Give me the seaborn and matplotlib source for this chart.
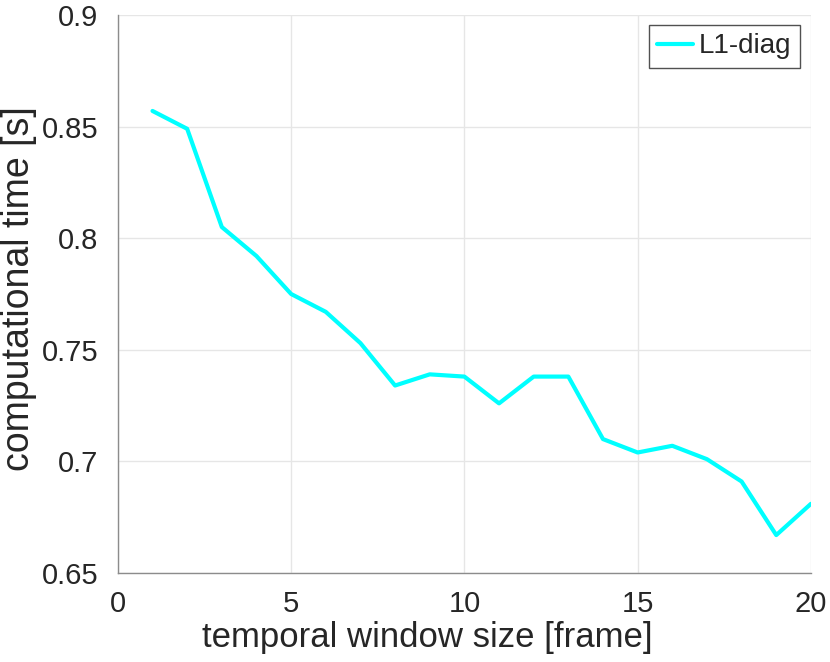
import numpy as np
import pandas as pd
import matplotlib
matplotlib.use("Agg")
import matplotlib.pyplot as plt
import seaborn as sns

# ---------------- Data ----------------
window_size = [1, 2, 3, 4, 5, 6, 7, 8, 9, 10,
               11, 12, 13, 14, 15, 16, 17, 18, 19, 20]
comp_time = [0.857, 0.849, 0.805, 0.792, 0.775, 0.767, 0.753, 0.734, 0.739, 0.738,
             0.726, 0.738, 0.738, 0.710, 0.704, 0.707, 0.701, 0.691, 0.667, 0.681]
series_name = "L1-diag"
x_ticks = [0, 5, 10, 15, 20]
y_ticks = [0.65, 0.7, 0.75, 0.8, 0.85, 0.9]
y_tick_labels = ["0.65", "0.7", "0.75", "0.8", "0.85", "0.9"]

df = pd.DataFrame({"window": window_size, "time": comp_time, "method": series_name})

# ---------------- Style ----------------
sns.set_theme(style="white")
plt.rcParams["font.family"] = ["Liberation Sans", "DejaVu Sans"]
plt.rcParams["xtick.direction"] = "in"
plt.rcParams["ytick.direction"] = "in"

fig = plt.figure(figsize=(8.3, 6.62), dpi=100)
ax = fig.add_axes([0.142, 0.1344, 0.835, 0.843])

sns.lineplot(
    data=df,
    x="window",
    y="time",
    hue="method",
    palette=["#00ffff"],
    linewidth=3,
    ax=ax
)

ax.set_xlim(0, 20)
ax.set_ylim(0.65, 0.9)
ax.set_xticks(x_ticks)
ax.set_yticks(y_ticks)
ax.set_yticklabels(y_tick_labels)

ax.grid(True, color="#e6e6e6", linewidth=1)
ax.set_axisbelow(True)

for side in ["top", "right"]:
    ax.spines[side].set_visible(False)
for side in ["left", "bottom"]:
    ax.spines[side].set_color("#8c8c8c")
    ax.spines[side].set_linewidth(1)

ax.tick_params(axis="both", labelsize=21, colors="#262626",
               length=5, width=1, color="#555555")
ax.tick_params(axis="y", pad=14)
ax.tick_params(axis="x", pad=12)

ax.set_xlabel("temporal window size [frame]", fontsize=25, color="#262626")
ax.set_ylabel("computational time [s]", fontsize=27, color="#262626")
ax.xaxis.set_label_coords(0.447, -0.086)
ax.yaxis.set_label_coords(-0.117, 0.509)

leg = ax.legend(loc="upper right", bbox_to_anchor=(0.984, 0.982),
                fontsize=20, frameon=True, fancybox=False,
                edgecolor="#262626", handlelength=1.3, handletextpad=0.2,
                borderpad=0.3, borderaxespad=0)
leg.set_title(None)
leg.get_frame().set_linewidth(1)

fig.savefig("out.png", dpi=100)
